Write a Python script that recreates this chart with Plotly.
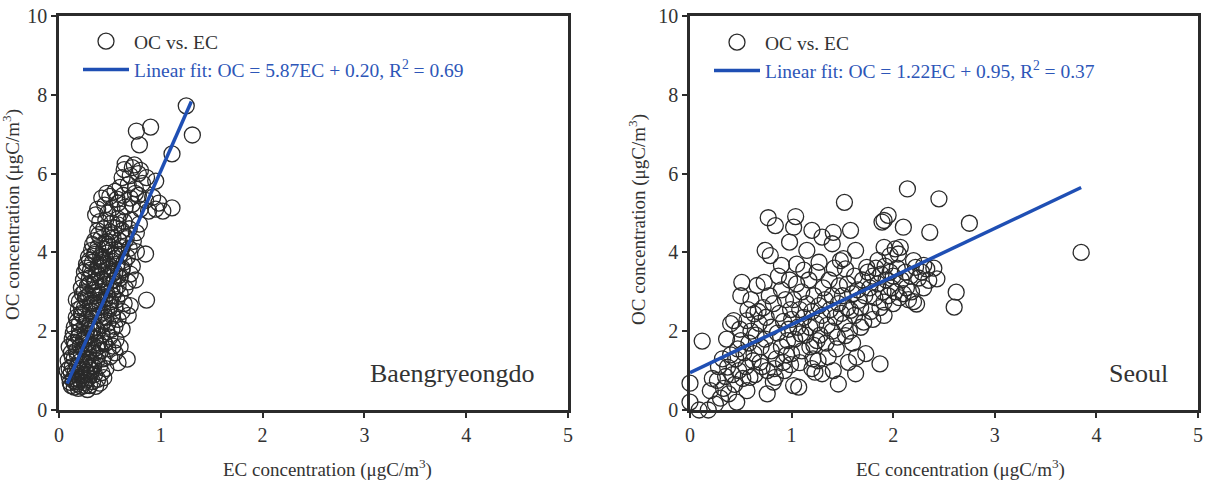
import plotly.graph_objects as go

# ---------------- data ----------------
baeng_ec = [
    0.12, 0.15, 0.18, 0.22, 0.25, 0.28, 0.30, 0.33, 0.20, 0.14, 0.10, 0.17, 0.24, 0.29, 0.35, 0.38, 0.40, 0.12, 0.21, 0.27, 0.32, 0.42, 0.08, 0.16, 0.36, 0.44, 0.19, 0.26,
    0.10, 0.13, 0.18, 0.23, 0.28, 0.34, 0.40, 0.46, 0.09, 0.15, 0.20, 0.26, 0.31, 0.37, 0.43, 0.50, 0.12, 0.17, 0.22, 0.29, 0.35, 0.41, 0.48, 0.10, 0.16, 0.21, 0.27, 0.33, 0.39, 0.45, 0.53, 0.13, 0.19, 0.24, 0.30, 0.36, 0.42, 0.50, 0.56, 0.14, 0.20, 0.26, 0.33, 0.47, 0.60, 0.55, 0.67, 0.58,
    0.15, 0.20, 0.25, 0.30, 0.36, 0.42, 0.48, 0.55, 0.62, 0.17, 0.23, 0.28, 0.34, 0.40, 0.46, 0.52, 0.58, 0.19, 0.25, 0.31, 0.37, 0.43, 0.49, 0.55, 0.62, 0.20, 0.27, 0.33, 0.39, 0.45, 0.51, 0.57, 0.64, 0.17, 0.23, 0.29, 0.35, 0.41, 0.47, 0.53, 0.60, 0.86, 0.68, 0.70,
    0.22, 0.28, 0.34, 0.40, 0.46, 0.52, 0.58, 0.65, 0.24, 0.30, 0.36, 0.42, 0.48, 0.54, 0.60, 0.68, 0.25, 0.31, 0.37, 0.43, 0.49, 0.55, 0.62, 0.70, 0.27, 0.33, 0.39, 0.45, 0.51, 0.57, 0.64, 0.72, 0.29, 0.35, 0.41, 0.47, 0.53, 0.60, 0.67, 0.85, 0.75,
    0.32, 0.38, 0.44, 0.50, 0.56, 0.62, 0.69, 0.76, 0.35, 0.41, 0.47, 0.53, 0.59, 0.66, 0.73, 0.38, 0.44, 0.50, 0.56, 0.62, 0.69, 0.76, 0.40, 0.46, 0.52, 0.58, 0.64, 0.71, 0.79, 0.36, 0.48, 0.60,
    0.38, 0.45, 0.52, 0.58, 0.65, 0.72, 0.80, 0.88, 0.95, 1.02, 1.11, 0.42, 0.50, 0.57, 0.63, 0.70, 0.78, 0.85, 0.92, 0.98, 0.47, 0.55, 0.75,
    0.60, 0.68, 0.75, 0.82, 0.95, 0.62, 0.70, 0.78, 0.86, 0.64, 0.72, 0.80, 0.65, 0.74,
    0.79, 0.76, 0.90, 1.11, 1.25, 1.31,
    0.11, 0.14, 0.19, 0.23, 0.27, 0.31, 0.16, 0.21, 0.25, 0.30, 0.34, 0.38, 0.13, 0.18, 0.24, 0.28, 0.33, 0.37, 0.44,
    0.15, 0.20, 0.26, 0.31, 0.38, 0.44, 0.52, 0.18, 0.22, 0.27, 0.32, 0.38, 0.44, 0.50, 0.22, 0.26, 0.31, 0.36, 0.42, 0.48, 0.55,
    0.25, 0.30, 0.35, 0.40, 0.46, 0.52, 0.58, 0.27, 0.32, 0.38, 0.43, 0.49, 0.55, 0.62, 0.30, 0.36, 0.42, 0.48, 0.55,
    0.33, 0.39, 0.45, 0.51, 0.58, 0.65,
]
baeng_oc = [
    0.62, 0.58, 0.66, 0.60, 0.70, 0.52, 0.62, 0.72, 0.78, 0.80, 0.85, 0.90, 0.88, 0.82, 0.90, 0.78, 0.68, 0.95, 0.98, 0.96, 1.00, 0.95, 1.00, 0.72, 0.60, 0.82, 0.55, 0.62,
    1.05, 1.10, 1.12, 1.08, 1.15, 1.10, 1.12, 1.05, 1.25, 1.30, 1.22, 1.30, 1.28, 1.25, 1.30, 1.35, 1.45, 1.50, 1.42, 1.48, 1.45, 1.50, 1.55, 1.60, 1.65, 1.62, 1.70, 1.66, 1.70, 1.68, 1.62, 1.80, 1.85, 1.78, 1.88, 1.82, 1.90, 1.85, 1.78, 1.95, 2.00, 1.95, 2.00, 1.98, 1.60, 1.45, 1.29, 1.20,
    2.10, 2.20, 2.12, 2.18, 2.10, 2.15, 2.20, 2.12, 2.05, 2.35, 2.40, 2.32, 2.38, 2.42, 2.35, 2.40, 2.30, 2.55, 2.60, 2.52, 2.58, 2.62, 2.55, 2.60, 2.50, 2.75, 2.80, 2.72, 2.78, 2.82, 2.75, 2.80, 2.70, 2.80, 2.95, 2.90, 2.98, 2.92, 2.95, 2.90, 2.95, 2.79, 2.40, 2.65,
    3.10, 3.15, 3.05, 3.12, 3.18, 3.08, 3.15, 3.10, 3.30, 3.35, 3.28, 3.32, 3.38, 3.30, 3.35, 3.25, 3.50, 3.55, 3.48, 3.52, 3.58, 3.50, 3.55, 3.45, 3.70, 3.75, 3.68, 3.72, 3.78, 3.70, 3.75, 3.65, 3.88, 3.95, 3.90, 3.98, 3.92, 3.95, 3.88, 3.96, 3.30,
    4.05, 4.12, 4.08, 4.15, 4.05, 4.12, 4.10, 4.02, 4.30, 4.35, 4.28, 4.38, 4.30, 4.35, 4.28, 4.55, 4.60, 4.52, 4.62, 4.55, 4.60, 4.50, 4.78, 4.82, 4.75, 4.85, 4.78, 4.82, 4.72, 4.95, 5.00, 4.98,
    5.10, 5.20, 5.12, 5.25, 5.15, 5.22, 5.10, 5.05, 5.10, 5.05, 5.13, 5.38, 5.42, 5.35, 5.45, 5.38, 5.45, 5.32, 5.40, 5.25, 5.50, 5.55, 5.50,
    5.65, 5.72, 5.62, 5.75, 5.81, 5.90, 5.95, 6.00, 5.90, 6.10, 6.15, 6.08, 6.25, 6.22,
    6.73, 7.08, 7.18, 6.50, 7.72, 6.98,
    0.70, 0.75, 0.72, 0.80, 0.76, 0.92, 1.00, 1.02, 1.20, 1.05, 1.18, 1.38, 1.35, 1.40, 1.55, 1.60, 1.52, 1.58, 1.75,
    1.72, 1.90, 1.82, 2.05, 2.00, 2.25, 2.05, 2.25, 2.45, 2.30, 2.50, 2.68, 2.48, 2.65, 2.60, 2.85, 2.70, 2.90, 3.00, 2.85, 3.05,
    3.00, 3.20, 3.25, 3.40, 3.25, 3.45, 3.40, 3.60, 3.45, 3.62, 3.80, 3.65, 3.85, 3.60, 3.80, 4.00, 3.82, 4.20, 3.95,
    4.20, 4.45, 4.25, 4.45, 4.70, 4.40,
]

seoul_ec = [
    0.00, 0.00, 0.09, 0.18, 0.12, 0.20, 0.27, 0.30, 0.25, 0.33, 0.37, 0.38, 0.36, 0.40, 0.43, 0.42, 0.46, 0.45, 0.48, 0.50, 0.50, 0.51, 0.35, 0.40, 0.44, 0.28, 0.22, 0.47, 0.49, 0.32,
    0.56, 0.56, 0.59, 0.63, 0.63, 0.66, 0.69, 0.73, 0.74, 0.76, 0.76, 0.77, 0.79, 0.82, 0.84, 0.84, 0.90, 0.92, 0.96, 0.98, 0.55, 0.58, 0.60, 0.62, 0.65, 0.68, 0.70, 0.72, 0.74, 0.75, 0.78, 0.80, 0.80, 0.82, 0.85, 0.86, 0.88, 0.90, 0.90, 0.92, 0.94, 0.95, 0.97, 0.98, 0.99, 0.60, 0.67, 0.71, 0.87, 0.93, 0.53, 0.57, 0.64, 0.83, 0.99, 0.52,
    1.00, 1.02, 1.02, 1.04, 1.07, 1.09, 1.15, 1.20, 1.20, 1.22, 1.23, 1.25, 1.27, 1.30, 1.30, 1.40, 1.41, 1.41, 1.46, 1.48, 1.00, 1.02, 1.03, 1.05, 1.06, 1.08, 1.10, 1.10, 1.12, 1.14, 1.15, 1.17, 1.18, 1.20, 1.21, 1.22, 1.24, 1.25, 1.27, 1.28, 1.30, 1.31, 1.33, 1.34, 1.35, 1.37, 1.38, 1.40, 1.40, 1.42, 1.43, 1.45, 1.46, 1.47, 1.49, 1.05, 1.12, 1.18, 1.36, 1.44, 1.26, 1.08,
    1.51, 1.52, 1.53, 1.53, 1.56, 1.58, 1.58, 1.63, 1.63, 1.64, 1.66, 1.71, 1.73, 1.74, 1.87, 1.89, 1.91, 1.91, 1.91, 1.91, 1.95, 1.97, 1.50, 1.52, 1.55, 1.57, 1.60, 1.62, 1.62, 1.65, 1.68, 1.70, 1.72, 1.75, 1.77, 1.78, 1.80, 1.82, 1.83, 1.85, 1.87, 1.88, 1.90, 1.92, 1.93, 1.95, 1.97, 1.98, 1.68, 1.55, 1.80, 1.85, 1.60,
    2.02, 2.05, 2.07, 2.10, 2.10, 2.14, 2.20, 2.22, 2.23, 2.30, 2.33, 2.35, 2.36, 2.43, 2.45, 2.60, 2.62, 2.75, 2.00, 2.02, 2.04, 2.06, 2.08, 2.12, 2.13, 2.15, 2.17, 2.18, 2.25, 2.28, 2.00, 2.20, 2.40, 2.30,
    3.85,
]
seoul_oc = [
    0.68, 0.20, 0.00, 0.00, 1.75, 0.49, 0.75, 0.30, 0.15, 0.55, 1.09, 0.41, 1.80, 2.19, 2.27, 0.90, 0.20, 1.30, 1.00, 1.76, 2.90, 3.24, 0.85, 1.40, 0.65, 1.10, 0.80, 1.55, 2.05, 1.30,
    2.27, 0.49, 0.83, 2.44, 1.43, 3.16, 1.21, 3.24, 4.05, 0.41, 1.00, 4.88, 3.92, 0.71, 0.83, 4.68, 3.67, 1.21, 1.76, 4.26, 1.10, 1.70, 2.00, 1.25, 1.90, 2.20, 1.60, 2.60, 1.80, 2.35, 2.90, 1.50, 2.10, 2.70, 1.30, 1.95, 2.45, 3.05, 1.60, 2.25, 2.80, 1.40, 2.05, 3.30, 2.55, 2.80, 2.50, 1.10, 3.40, 1.00, 1.45, 2.55, 0.90, 1.05, 1.15, 0.80,
    1.43, 0.62, 4.64, 4.91, 0.58, 1.93, 4.05, 4.56, 1.05, 1.64, 0.96, 1.76, 3.75, 4.39, 0.92, 4.22, 4.51, 1.00, 0.66, 3.79, 2.30, 2.80, 1.80, 3.20, 2.10, 2.55, 1.50, 3.00, 2.35, 1.90, 2.70, 3.30, 2.10, 2.50, 1.30, 2.90, 2.20, 3.50, 2.65, 1.90, 2.40, 3.10, 2.80, 1.70, 2.15, 3.30, 2.55, 2.00, 2.90, 3.60, 2.35, 1.85, 2.70, 3.15, 2.45, 3.70, 3.55, 1.60, 1.35, 1.55, 1.25, 1.20,
    3.84, 5.27, 3.58, 1.89, 1.21, 4.56, 2.53, 4.05, 0.92, 1.34, 2.78, 2.23, 1.43, 3.62, 1.17, 4.77, 4.81, 4.13, 2.40, 2.74, 4.94, 3.92, 2.90, 2.20, 3.20, 2.00, 2.95, 3.40, 2.40, 3.05, 2.60, 3.30, 2.90, 3.50, 3.10, 2.50, 3.40, 2.85, 3.60, 3.20, 2.60, 3.45, 3.00, 3.65, 3.30, 2.90, 3.50, 3.10, 2.10, 2.60, 2.30, 3.80, 1.70,
    4.09, 3.96, 4.13, 4.64, 2.95, 5.61, 3.79, 3.62, 2.69, 3.67, 3.58, 3.29, 4.51, 3.33, 5.36, 2.61, 2.99, 4.74, 3.40, 3.00, 3.60, 2.85, 3.30, 3.50, 3.10, 2.80, 3.40, 3.00, 3.35, 3.50, 2.70, 2.75, 3.60, 3.10,
    4.00,
]
assert len(baeng_ec) == len(baeng_oc)
assert len(seoul_ec) == len(seoul_oc)

# linear fits as printed on the chart
baeng_fit = {"slope": 5.87, "intercept": 0.20, "r2": 0.69, "x_range": [0.08, 1.30]}
seoul_fit = {"slope": 1.22, "intercept": 0.95, "r2": 0.37, "x_range": [0.0, 3.85]}

x_ticks = [0, 1, 2, 3, 4, 5]
y_ticks = [0, 2, 4, 6, 8, 10]
station_names = ["Baengryeongdo", "Seoul"]

# ---------------- styling ----------------
W, H = 1207, 481
FONT = "Liberation Serif, Times New Roman, serif"
BLUE_LINE = "#1f4fb4"
BLUE_TEXT = "#2d56b8"
DARK = "#333333"

def px_x(p):
    return p / W

def px_y(p):
    return (H - p) / H

dom_left = [px_x(59), px_x(568)]
dom_right = [px_x(690), px_x(1198)]
dom_y = [px_y(410), px_y(16)]

fig = go.Figure()

panels = [
    (baeng_ec, baeng_oc, baeng_fit, "x", "y", "legend"),
    (seoul_ec, seoul_oc, seoul_fit, "x2", "y2", "legend2"),
]
for i, (ec, oc, fit, xa, ya, lg) in enumerate(panels):
    fig.add_trace(go.Scatter(
        x=ec, y=oc, mode="markers", xaxis=xa, yaxis=ya,
        name="OC vs. EC", legend=lg, legendgroup=f"pts{i}",
        cliponaxis=False,
        marker=dict(symbol="circle-open", size=16, color="#2a2a2a", line=dict(width=1.3, color="#2a2a2a")),
    ))
    fx = fit["x_range"]
    fy = [fit["slope"] * v + fit["intercept"] for v in fx]
    label = (f"<span style='color:{BLUE_TEXT}'>Linear fit: OC = {fit['slope']:.2f}EC + {fit['intercept']:.2f}, "
             f"R<sup>2</sup> = {fit['r2']:.2f}</span>")
    fig.add_trace(go.Scatter(
        x=fx, y=fy, mode="lines", xaxis=xa, yaxis=ya,
        name=label, legend=lg, legendgroup=f"fit{i}",
        line=dict(color=BLUE_LINE, width=3.5),
    ))

axis_common = dict(
    showline=True, linewidth=2.5, linecolor="#2b2b2b", mirror=True,
    ticks="outside", ticklen=5, tickwidth=1.5, tickcolor="#2b2b2b",
    showgrid=False, zeroline=False, automargin=False,
    tickfont=dict(family=FONT, size=20, color=DARK),
)

legend_common = dict(
    xanchor="left", yanchor="top", bgcolor="rgba(0,0,0,0)", borderwidth=0,
    itemwidth=46, traceorder="grouped", tracegroupgap=0,
    font=dict(family=FONT, size=19.5, color=DARK),
)

fig.update_layout(
    width=W, height=H,
    margin=dict(l=0, r=0, t=0, b=0, autoexpand=False),
    paper_bgcolor="white", plot_bgcolor="white",
    showlegend=True,
    xaxis=dict(domain=dom_left, range=[0, 5], tickvals=x_ticks, anchor="y", **axis_common),
    yaxis=dict(domain=dom_y, range=[0, 10], tickvals=y_ticks, anchor="x", **axis_common),
    xaxis2=dict(domain=dom_right, range=[0, 5], tickvals=x_ticks, anchor="y2", **axis_common),
    yaxis2=dict(domain=dom_y, range=[0, 10], tickvals=y_ticks, anchor="x2", **axis_common),
    legend=dict(x=px_x(78), y=px_y(22), **legend_common),
    legend2=dict(x=px_x(709), y=px_y(23), **legend_common),
)

ann_font = dict(family=FONT, size=19, color=DARK)
annotations = [
    dict(text="EC concentration (μgC/m<sup>3</sup>)", xref="paper", yref="paper",
         x=px_x(327), y=px_y(468), xanchor="center", yanchor="middle", showarrow=False, font=ann_font),
    dict(text="EC concentration (μgC/m<sup>3</sup>)", xref="paper", yref="paper",
         x=px_x(960), y=px_y(468), xanchor="center", yanchor="middle", showarrow=False, font=ann_font),
    dict(text="OC concentration (μgC/m<sup>3</sup>)", xref="paper", yref="paper", textangle=-90,
         x=px_x(12), y=px_y(215), xanchor="center", yanchor="middle", showarrow=False, font=ann_font),
    dict(text="OC concentration (μgC/m<sup>3</sup>)", xref="paper", yref="paper", textangle=-90,
         x=px_x(637), y=px_y(220), xanchor="center", yanchor="middle", showarrow=False, font=ann_font),
    dict(text=station_names[0], xref="x", yref="y", x=4.7, y=0.92, xanchor="right", yanchor="middle",
         showarrow=False, font=dict(family=FONT, size=26, color=DARK)),
    dict(text=station_names[1], xref="x2", yref="y2", x=4.72, y=0.92, xanchor="right", yanchor="middle",
         showarrow=False, font=dict(family=FONT, size=26, color=DARK)),
]
fig.update_layout(annotations=annotations)

fig.write_html("out.html")
